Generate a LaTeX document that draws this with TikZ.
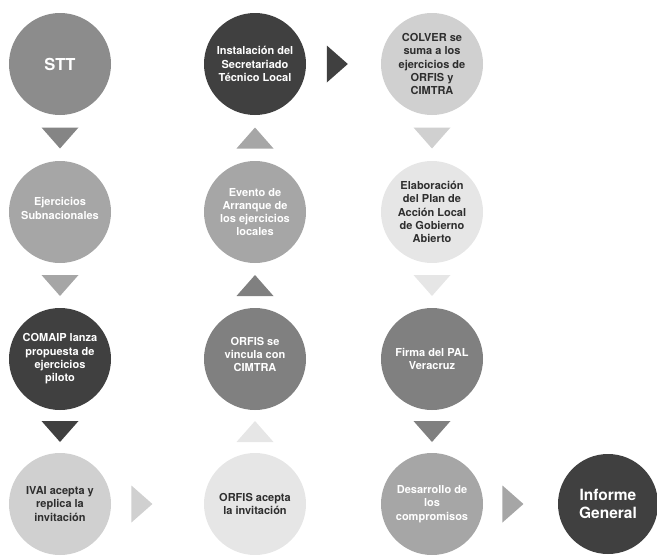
\documentclass[tikz,border=0pt]{standalone}
\usepackage{fontspec}
\setmainfont{TeX Gyre Heros}
\usepackage{tikz}
\usetikzlibrary{calc}
\definecolor{grisosc}{HTML}{404040}
\definecolor{grisstt}{HTML}{8C8C8C}
\definecolor{grisflecha}{HTML}{858585}
\definecolor{grismedio}{HTML}{808080}
\definecolor{grisclaro}{HTML}{A6A6A6}
\definecolor{grispalido}{HTML}{D0D0D0}
\definecolor{grisblanco}{HTML}{E6E6E6}
\definecolor{textoosc}{HTML}{2E2E2E}

\begin{document}
\begin{tikzpicture}[x=1pt,y=-1pt,
  paso/.style={circle,minimum size=102pt,inner sep=0pt,align=center,text=white,
    font=\bfseries\fontsize{11}{13.3}\selectfont},
  pasoclaro/.style={paso,text=textoosc}]
  \useasboundingbox (0,0) rectangle (657,557);

  % Fila 1
  \node[paso,fill=grisstt,font=\bfseries\fontsize{16.5}{18}\selectfont] (stt) at (60,64) {STT};
  \node[paso,fill=grisosc] (instal) at (255,64)
    {Instalación del\\Secretariado\\Técnico Local};
  \node[pasoclaro,fill=grispalido] (colver) at (432,64)
    {COLVER se\\suma a los\\ejercicios de\\ORFIS y\\CIMTRA};

  % Fila 2
  \node[paso,fill=grisclaro] (ejer) at (60,212) {Ejercicios\\Subnacionales\\[-6pt]};
  \node[paso,fill=grisclaro] (evento) at (255,212)
    {Evento de\\Arranque de\\los ejercicios\\locales};
  \node[pasoclaro,fill=grisblanco] (elab) at (432,212)
    {Elaboración\\del Plan de\\Acción Local\\de Gobierno\\Abierto};

  % Fila 3
  \node[paso,fill=grisosc] (comaip) at (60,359)
    {COMAIP lanza\\propuesta de\\ejercicios\\piloto};
  \node[paso,fill=grismedio] (vincula) at (255,359)
    {ORFIS se\\vincula con\\CIMTRA\\[-4pt]};
  \node[paso,fill=grismedio] (firma) at (432,359) {Firma del PAL\\Veracruz};

  % Fila 4
  \node[pasoclaro,fill=grispalido] (ivai) at (60,504)
    {IVAI acepta y\\replica la\\invitación};
  \node[pasoclaro,fill=grisblanco] (acepta) at (255,504)
    {ORFIS acepta\\la invitación};
  \node[paso,fill=grisclaro] (desarr) at (432,504)
    {Desarrollo de\\los\\compromisos};
  \node[paso,fill=grisosc,minimum size=100pt,
    font=\bfseries\fontsize{15.5}{17.5}\selectfont] (informe) at (608,504)
    {Informe\\General};

  % Flechas (triangulos)
  \coordinate (b1) at ($(stt)!0.5!(ejer)$);
  \coordinate (b2) at ($(ejer)!0.5!(comaip)$);
  \coordinate (b3) at ($(comaip)!0.5!(ivai)$);
  \coordinate (b4) at ($(colver)!0.5!(elab)$);
  \coordinate (b5) at ($(elab)!0.5!(firma)$);
  \coordinate (b6) at ($(firma)!0.5!(desarr)$);
  \coordinate (s1) at ($(acepta)!0.5!(vincula)$);
  \coordinate (s2) at ($(vincula)!0.5!(evento)$);
  \coordinate (s3) at ($(evento)!0.5!(instal)$);
  \coordinate (d1) at ($(ivai)!0.42!(acepta)$);
  \coordinate (d2) at ($(instal)!0.465!(colver)$);
  \coordinate (d3) at ($(desarr)!0.46!(informe)$);

  \foreach \f/\c in {b1/grisflecha, b2/grisclaro, b3/grisosc,
                     b4/grispalido, b5/grisblanco, b6/grismedio} {
    \fill[\c,shift={(\f)}] (-18.5,-10.5) -- (18.5,-10.5) -- (0,10.5) -- cycle;
  }
  \foreach \f/\c in {s1/grisblanco, s2/grismedio, s3/grisclaro} {
    \fill[\c,shift={(\f)}] (-18.5,10.5) -- (18.5,10.5) -- (0,-10.5) -- cycle;
  }
  \foreach \f/\c in {d1/grispalido, d2/grisosc, d3/grisclaro} {
    \fill[\c,shift={(\f)}] (-10.5,-18.5) -- (10.5,0) -- (-10.5,18.5) -- cycle;
  }
\end{tikzpicture}
\end{document}
